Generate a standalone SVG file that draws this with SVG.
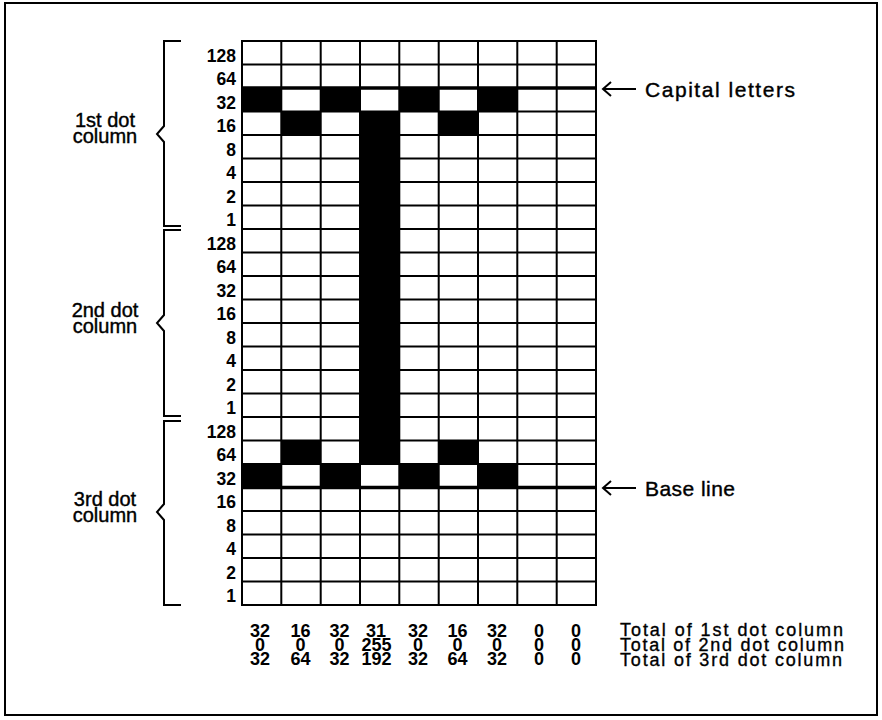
<svg xmlns="http://www.w3.org/2000/svg" width="882" height="720" viewBox="0 0 882 720">
<style>
.ln{stroke:#000;stroke-width:2;fill:none}
.thk{stroke:#000;stroke-width:3.5;fill:none}
.blk{fill:#000}
.rl{font-family:"Liberation Sans",Arial,sans-serif;font-weight:bold;font-size:17.5px;text-anchor:end;fill:#000}
.tn{font-family:"Liberation Sans",Arial,sans-serif;font-weight:bold;font-size:18px;text-anchor:middle;fill:#000}
.lb{font-family:"Liberation Sans",Arial,sans-serif;font-size:21px;fill:#000;stroke:#000;stroke-width:0.4}
.lt{font-family:"Liberation Sans",Arial,sans-serif;font-size:18px;fill:#000;stroke:#000;stroke-width:0.35}
.lc{font-family:"Liberation Sans",Arial,sans-serif;font-size:20px;text-anchor:middle;fill:#000;stroke:#000;stroke-width:0.4}
</style>
<rect x="0" y="0" width="882" height="720" fill="#fff"/>
<rect x="5" y="3" width="872" height="712" class="ln"/>
<g id="cells">
<rect class="blk" x="242" y="88" width="39.3" height="23.5"/>
<rect class="blk" x="320.7" y="88" width="39.3" height="23.5"/>
<rect class="blk" x="399.3" y="88" width="39.3" height="23.5"/>
<rect class="blk" x="478" y="88" width="39.3" height="23.5"/>
<rect class="blk" x="281.3" y="111.5" width="39.3" height="23.5"/>
<rect class="blk" x="438.7" y="111.5" width="39.3" height="23.5"/>
<rect class="blk" x="360" y="111.5" width="39.3" height="352.5"/>
<rect class="blk" x="281.3" y="440.5" width="39.3" height="23.5"/>
<rect class="blk" x="438.7" y="440.5" width="39.3" height="23.5"/>
<rect class="blk" x="242" y="464" width="39.3" height="23.5"/>
<rect class="blk" x="320.7" y="464" width="39.3" height="23.5"/>
<rect class="blk" x="399.3" y="464" width="39.3" height="23.5"/>
<rect class="blk" x="478" y="464" width="39.3" height="23.5"/>
</g>
<g id="grid">
<path class="ln" d="M242 41H596V605H242Z M281.3 41V605 M320.7 41V605 M360 41V605 M399.3 41V605 M438.7 41V605 M478 41V605 M517.3 41V605 M556.7 41V605
M242 64.5H596 M242 111.5H596 M242 135H596 M242 158.5H596 M242 182H596 M242 205.5H596 M242 229H596 M242 252.5H596 M242 276H596 M242 299.5H596 M242 323H596 M242 346.5H596 M242 370H596 M242 393.5H596 M242 417H596 M242 440.5H596 M242 464H596 M242 511H596 M242 534.5H596 M242 558H596 M242 581.5H596"/>
<path class="thk" d="M242 88H596 M242 487.5H596"/>
</g>
<g id="row-labels">
<text class="rl" x="236" y="61.5">128</text>
<text class="rl" x="236" y="85">64</text>
<text class="rl" x="236" y="108.5">32</text>
<text class="rl" x="236" y="132">16</text>
<text class="rl" x="236" y="155.5">8</text>
<text class="rl" x="236" y="179">4</text>
<text class="rl" x="236" y="202.5">2</text>
<text class="rl" x="236" y="226">1</text>
<text class="rl" x="236" y="249.5">128</text>
<text class="rl" x="236" y="273">64</text>
<text class="rl" x="236" y="296.5">32</text>
<text class="rl" x="236" y="320">16</text>
<text class="rl" x="236" y="343.5">8</text>
<text class="rl" x="236" y="367">4</text>
<text class="rl" x="236" y="390.5">2</text>
<text class="rl" x="236" y="414">1</text>
<text class="rl" x="236" y="437.5">128</text>
<text class="rl" x="236" y="461">64</text>
<text class="rl" x="236" y="484.5">32</text>
<text class="rl" x="236" y="508">16</text>
<text class="rl" x="236" y="531.5">8</text>
<text class="rl" x="236" y="555">4</text>
<text class="rl" x="236" y="578.5">2</text>
<text class="rl" x="236" y="602">1</text>
</g>
<g id="brackets">
<path class="ln" d="M181 41H164V126L157 134L164 142V226H181"/>
<path class="ln" d="M181 230H164V315L157 323L164 331V416H181"/>
<path class="ln" d="M181 421H164V504L157 512L164 520V605H181"/>
</g>
<g id="group-labels">
<text class="lc" x="105" y="127">1st dot</text>
<text class="lc" x="105" y="143">column</text>
<text class="lc" x="105" y="317">2nd dot</text>
<text class="lc" x="105" y="333">column</text>
<text class="lc" x="105" y="506">3rd dot</text>
<text class="lc" x="105" y="522">column</text>
</g>
<g id="connectors">
<path class="ln" d="M603 89H636 M611 82L603 89L611 96"/>
<path class="ln" d="M603 488H636 M611 481L603 488L611 495"/>
</g>
<g id="side-labels">
<text class="lb" x="645" y="96.5" textLength="150" lengthAdjust="spacing">Capital letters</text>
<text class="lb" x="645" y="495.5" textLength="90" lengthAdjust="spacing">Base line</text>
</g>
<g id="totals">
<text class="tn" x="260" y="637">32</text><text class="tn" x="300.5" y="637">16</text><text class="tn" x="339.5" y="637">32</text><text class="tn" x="376" y="637">31</text><text class="tn" x="418" y="637">32</text><text class="tn" x="457.5" y="637">16</text><text class="tn" x="497" y="637">32</text><text class="tn" x="539" y="637">0</text><text class="tn" x="576" y="637">0</text>
<text class="tn" x="260" y="651">0</text><text class="tn" x="300.5" y="651">0</text><text class="tn" x="339.5" y="651">0</text><text class="tn" x="376.5" y="651">255</text><text class="tn" x="418" y="651">0</text><text class="tn" x="457.5" y="651">0</text><text class="tn" x="497" y="651">0</text><text class="tn" x="539" y="651">0</text><text class="tn" x="576" y="651">0</text>
<text class="tn" x="260" y="665">32</text><text class="tn" x="300.5" y="665">64</text><text class="tn" x="339.5" y="665">32</text><text class="tn" x="376.5" y="665">192</text><text class="tn" x="418" y="665">32</text><text class="tn" x="457.5" y="665">64</text><text class="tn" x="497" y="665">32</text><text class="tn" x="539" y="665">0</text><text class="tn" x="576" y="665">0</text>
<text class="lt" x="620" y="636" textLength="223" lengthAdjust="spacing">Total of 1st dot column</text>
<text class="lt" x="620" y="651" textLength="224" lengthAdjust="spacing">Total of 2nd dot column</text>
<text class="lt" x="620" y="666" textLength="222" lengthAdjust="spacing">Total of 3rd dot column</text>
</g>
</svg>
